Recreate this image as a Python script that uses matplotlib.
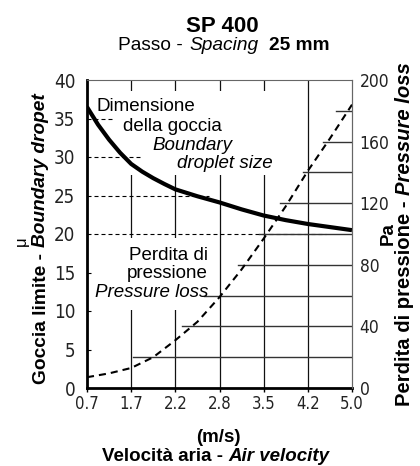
import matplotlib
matplotlib.use('Agg')
import matplotlib.pyplot as plt
from matplotlib.patches import Rectangle
from matplotlib import font_manager

# x axis: air velocity (m/s), drawn as evenly spaced categories
speed_labels = ['0.7', '1.7', '2.2', '2.8', '3.5', '4.2', '5.0']

# boundary droplet size (micron) (category position)
drop_pos = [0, 0.25, 0.5, 0.75, 1, 1.25, 1.5, 1.75, 2, 2.5, 3, 3.5, 4, 4.5, 5, 5.5, 6]
drop_size = [36.5, 34.2, 32.25, 30.55, 29.1, 28.1, 27.25, 26.5, 25.8, 24.9, 24.1,
             23.2, 22.4, 21.8, 21.3, 20.9, 20.5]

# pressure loss (Pa)
loss_pos = [0, 0.5, 1, 1.5, 2, 2.5, 3, 3.5, 4, 4.5, 5, 5.5, 6]
loss_pa = [7, 9.5, 13, 20, 31, 43, 59, 77, 97, 118, 141, 162, 184]

mu_ticks = [0, 5, 10, 15, 20, 25, 30, 35, 40]
pa_ticks = [0, 40, 80, 120, 160, 200]
pa_grid = [20, 40, 60, 80, 100, 120, 140, 160, 180]
mu_grid = [35, 30, 25, 20, 15, 10, 5]

plt.rcParams['font.family'] = ['Liberation Sans', 'DejaVu Sans']

# a narrow face for the tick numbers, if one is installed
fonts = font_manager.fontManager.ttflist
tick_font = dict(family='Liberation Sans')
if any(f.name == 'Liberation Sans Narrow' for f in fonts):
    tick_font = dict(family='Liberation Sans Narrow')
elif any(f.name == 'DejaVu Sans' and f.stretch == 'condensed' for f in fonts):
    tick_font = dict(family='DejaVu Sans', stretch='condensed')

W, H = 420, 466
def fx(x):
    return x / W
def fy(y):
    return 1 - y / H

fig = plt.figure(figsize=(W / 100, H / 100), dpi=100)
ax = fig.add_axes([fx(87), fy(388), (352 - 87) / W, (388 - 80) / H])
ax2 = ax.twinx()

# solid vertical grid
for i in range(1, len(speed_labels) - 1):
    ax.axvline(i, color='#111111', lw=0.9, zorder=1)

# white areas behind the labels inside the plot
ax.add_patch(Rectangle((0.023, 0.692), 0.705, 0.272, transform=ax.transAxes,
                       facecolor='white', edgecolor='none', zorder=2))
ax.add_patch(Rectangle((0.023, 0.253), 0.43, 0.234, transform=ax.transAxes,
                       facecolor='white', edgecolor='none', zorder=2))

# dashed lines from the left axis
mu_len = [0.094, 0.21, 0.46, 0.90, 0.028, 0.028, 0.028]
for v, l in zip(mu_grid, mu_len):
    ax.axhline(v, xmin=0, xmax=l, color='black', lw=0.8, ls=(0, (3.6, 2.7)), zorder=3)

# solid lines from the right axis
pa_start = [0.174, 0.36, 0.44, 0.57, 0.65, 0.73, 0.815, 0.89, 0.94]
for v, s in zip(pa_grid, pa_start):
    ax2.axhline(v, xmin=s, xmax=1, color='#333333', lw=1)

ax.plot(drop_pos, drop_size, color='black', lw=3, solid_capstyle='butt',
        solid_joinstyle='round', zorder=4)
ax2.plot(loss_pos, loss_pa, color='black', lw=1.5, ls=(0, (3.4, 2.4)))

ax.set_xlim(0, len(speed_labels) - 1)
ax.set_ylim(0, 40)
ax2.set_ylim(0, 200)
ax.set_xticks(range(len(speed_labels)), speed_labels)
ax.set_yticks(mu_ticks)
ax2.set_yticks(pa_ticks)

ax.tick_params(axis='x', direction='out', length=3, width=1, pad=2,
               labelsize=12, labelcolor='#222222')
ax.tick_params(axis='y', length=0, pad=8.5, labelsize=13.5, labelcolor='#222222')
ax2.tick_params(axis='y', length=0, pad=5.5, labelsize=12.5, labelcolor='#222222')
for lab in ax.get_xticklabels() + ax.get_yticklabels() + ax2.get_yticklabels():
    lab.set(**tick_font)

ax.spines['left'].set_linewidth(2)
ax.spines['bottom'].set_linewidth(2)
for s in ['top', 'right']:
    ax.spines[s].set_linewidth(0.8)
    ax.spines[s].set_color('#666666')
for s in ['top', 'left', 'bottom']:
    ax2.spines[s].set_visible(False)
ax2.spines['right'].set_linewidth(0.8)
ax2.spines['right'].set_color('#666666')

# titles
fig.text(fx(222), fy(32), 'SP 400', ha='center', va='baseline', fontsize=16, weight='bold')
t = fig.text(fx(118), fy(50), 'Passo -', ha='left', va='baseline', fontsize=13.8)
t = ax.annotate('Spacing', xy=(1, 0), xycoords=t, xytext=(4.5, 0), textcoords='offset points',
                ha='left', va='bottom', fontsize=13.8, style='italic')
ax.annotate('25 mm', xy=(1, 0), xycoords=t, xytext=(8, 0), textcoords='offset points',
            ha='left', va='bottom', fontsize=13.8, weight='bold')

# labels inside the plot
fs = 13.5
fig.text(fx(97), fy(111), 'Dimensione', fontsize=fs, va='baseline')
fig.text(fx(123), fy(131), 'della goccia', fontsize=fs, va='baseline')
fig.text(fx(152), fy(150), 'Boundary', fontsize=fs, va='baseline', style='italic')
fig.text(fx(177), fy(168), 'droplet size', fontsize=fs, va='baseline', style='italic')

fig.text(fx(129), fy(260), 'Perdita di', fontsize=fs, va='baseline')
fig.text(fx(127), fy(278), 'pressione', fontsize=fs, va='baseline')
fig.text(fx(95), fy(297), 'Pressure loss', fontsize=fs, va='baseline', style='italic')

# left axis label
fig.text(fx(21), fy(241), 'μ', rotation=90, ha='center', va='center', fontsize=12)
t = fig.text(fx(41), fy(384), 'Goccia limite -', rotation=90, ha='center', va='bottom',
             fontsize=13.8, weight='bold')
ax.annotate('Boundary dropet', xy=(0.5, 1), xycoords=t, xytext=(0, 4), textcoords='offset points',
            rotation=90, ha='center', va='bottom', fontsize=13.8, weight='bold', style='italic')

# right axis label
fig.text(fx(388), fy(234), 'Pa', rotation=90, ha='center', va='center', fontsize=fs, weight='bold')
t = fig.text(fx(405), fy(406), 'Perdita di pressione -', rotation=90, ha='center', va='bottom',
             fontsize=14.6, weight='bold')
ax.annotate('Pressure loss', xy=(0.5, 1), xycoords=t, xytext=(0, 4), textcoords='offset points',
            rotation=90, ha='center', va='bottom', fontsize=14.6, weight='bold', style='italic')

# x axis label
fig.text(fx(218), fy(442), '(m/s)', ha='center', va='baseline', fontsize=fs, weight='bold')
t = fig.text(fx(102), fy(461), 'Velocità aria -', ha='left', va='baseline', fontsize=fs, weight='bold')
ax.annotate('Air velocity', xy=(1, 0), xycoords=t, xytext=(4, 0), textcoords='offset points',
            ha='left', va='bottom', fontsize=fs, weight='bold', style='italic')

fig.savefig('out.png', dpi=100)
